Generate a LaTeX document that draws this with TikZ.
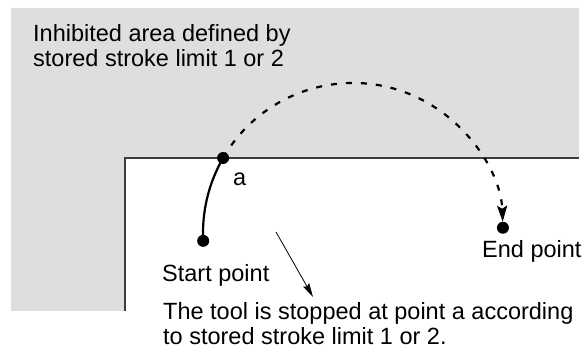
\documentclass[tikz,border=0pt]{standalone}
\usepackage{fontspec}
\setmainfont{Liberation Sans}
\usetikzlibrary{arrows.meta,calc}
\definecolor{areagray}{RGB}{222,222,222}
\definecolor{edgegray}{RGB}{60,60,60}
\begin{document}
\begin{tikzpicture}[x=1pt,y=1pt,
  lbl/.style={font=\fontsize{23.5}{25}\selectfont, inner sep=0pt, anchor=base west, align=left},
  dot/.style={circle, fill=black, inner sep=0pt, minimum size=12pt},
  path/.style={line width=2.2pt},
  tip/.style={-{Stealth[length=16pt,width=10pt,inset=3pt]}},
  thintip/.style={-{Stealth[length=14pt,width=7pt,inset=2pt]}}]
\useasboundingbox (0,0) rectangle (587,352);
\fill[areagray] (11,344) -- (579,344) -- (579,194) -- (125,194) -- (125,41) -- (11,41) -- cycle;
\draw[edgegray, line width=1.5pt] (125,41) -- (125,194) -- (579,194);
\coordinate (O) at (353,119);
\node[dot] (s) at ($(O)+(183:150)$) {};
\node[dot] (a) at ($(O)+(150:150)$) {};
\node[dot] (e) at ($(O)+(2:150)$) {};
\draw[path] (s.center) arc[start angle=183, end angle=150, radius=150];
\draw[path, dash pattern=on 6pt off 9pt, tip, shorten >=6pt] (a.center) arc[start angle=150, end angle=2, radius=150];
\node[lbl] (inh) at (33,285.3) {Inhibited area defined by\\stored stroke limit 1 or 2};
\node[lbl] (la) at (233,166) {a};
\node[lbl] (ls) at (162,70) {Start point};
\node[lbl] (le) at (482,94) {End point};
\node[lbl] (lt) at (163,7) {The tool is stopped at point a according\\to stored stroke limit 1 or 2.};
\coordinate (p1) at (276,120);
\coordinate (p2) at (313,55);
\draw[line width=0.8pt, thintip] (p1) -- (p2);
\end{tikzpicture}
\end{document}
